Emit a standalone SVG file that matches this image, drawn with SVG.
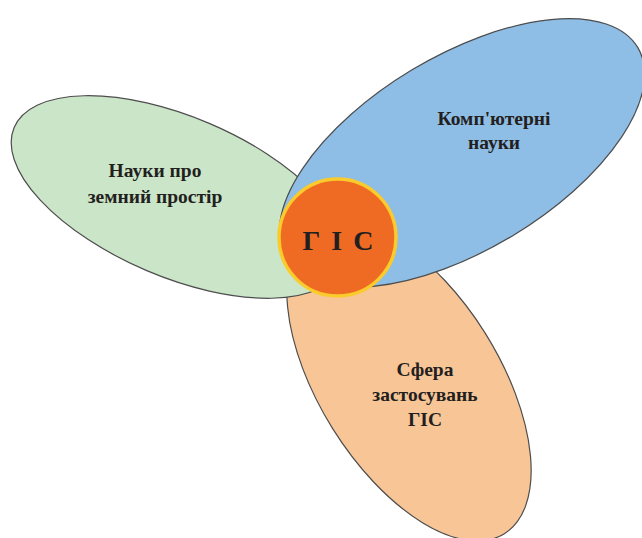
<svg xmlns="http://www.w3.org/2000/svg" width="642" height="538" viewBox="0 0 642 538">
<style>
.el{stroke:#4d4d4d;stroke-width:1.2}
.lbl{font-family:"Liberation Serif","DejaVu Serif",serif;font-weight:bold;font-size:19.5px;fill:#231f20;text-anchor:middle}
.core{font-family:"Liberation Serif","DejaVu Serif",serif;font-weight:bold;font-size:28px;fill:#231f20;text-anchor:middle;letter-spacing:2px}
</style>
<rect width="642" height="538" fill="#ffffff"/>
<g id="apps">
<ellipse class="el" cx="409" cy="381" rx="180" ry="90" transform="rotate(58 409 381)" fill="#f8c596"/>
<text class="lbl" x="425" y="376">Сфера</text>
<text class="lbl" x="425" y="401">застосувань</text>
<text class="lbl" x="425" y="426">ГІС</text>
</g>
<g id="earth">
<ellipse class="el" cx="178" cy="197" rx="178" ry="80" transform="rotate(23 178 197)" fill="#cbe5c8"/>
<text class="lbl" x="155" y="177">Науки про</text>
<text class="lbl" x="155" y="203">земний простір</text>
</g>
<g id="cs">
<ellipse class="el" cx="462" cy="153" rx="205" ry="97" transform="rotate(-31 462 153)" fill="#8ebde5"/>
<text class="lbl" x="494" y="125">Комп'ютерні</text>
<text class="lbl" x="494" y="149">науки</text>
</g>
<g id="gis">
<circle cx="337.5" cy="237.5" r="58.5" fill="#ef6b24" stroke="#fbcb2c" stroke-width="3.5"/>
<text class="core" x="339" y="250">Г І С</text>
</g>
<g id="connectors"></g>
</svg>
